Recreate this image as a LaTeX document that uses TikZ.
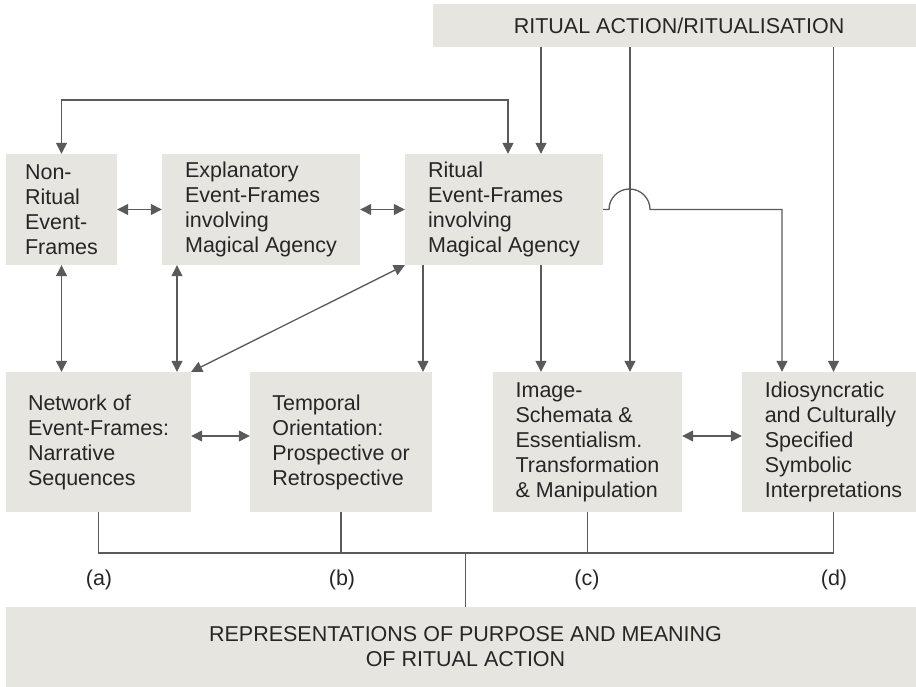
\documentclass[tikz,border=0pt]{standalone}
\usepackage{fontspec}
\setmainfont{Liberation Sans}
\usetikzlibrary{arrows.meta}
\definecolor{boxgray}{HTML}{E6E5E0}
\definecolor{linegray}{HTML}{5A5A5A}
\definecolor{textgray}{HTML}{262626}

\begin{document}
\begin{tikzpicture}[x = 1pt, y = -1pt, font = \fontsize{21.5}{25}\selectfont,
  box/.style = {fill = boxgray, text = textgray, align = left, inner sep = 0pt},
  link/.style = {draw = linegray, line width = 1.3pt},
  > = {Triangle[length = 11pt, width = 11pt]}]
  \useasboundingbox (0, 0) rectangle (916, 687);
  \clip (0, 0) rectangle (916, 687);

  \node[box, minimum width = 492pt, minimum height = 43pt] (ritaction) at (679, 25.5) {RITUAL ACTION/RITUALISATION};

  \node[box, minimum width = 111pt, minimum height = 111pt] (nonritual) at (61.5, 209.5) {Non-\\Ritual\\Event-\\Frames};
  \node[box, minimum width = 198pt, minimum height = 111pt] (explan) at (261, 209.5) {Explanatory\\Event-Frames\\involving\\Magical Agency};
  \node[box, minimum width = 198pt, minimum height = 111pt] (ritual) at (504, 209.5) {Ritual\\Event-Frames\\involving\\Magical Agency};

  \node[box, minimum width = 185pt, minimum height = 140pt] (network) at (98.5, 442) {Network of\\Event-Frames:\\Narrative\\Sequences};
  \node[box, minimum width = 182pt, minimum height = 140pt] (temporal) at (341, 442) {Temporal\\Orientation:\\Prospective or\\Retrospective};
  \node[box, minimum width = 189pt, minimum height = 140pt] (schemata) at (587.5, 442) {Image-\\Schemata \&\\Essentialism.\\Transformation\\\& Manipulation};
  \node[box, minimum width = 183pt, minimum height = 140pt] (idiosync) at (833.5, 442) {Idiosyncratic\\and Culturally\\Specified\\Symbolic\\Interpretations};

  \node[box, minimum width = 919pt, minimum height = 80pt, align = center] (purpose) at (465.5, 647) {REPRESENTATIONS OF PURPOSE AND MEANING\\OF RITUAL ACTION};

  % x positions of the vertical drops, y of the loop and the bus
  \coordinate (loop) at (508, 100);
  \coordinate (xtemp) at (423, 0);
  \coordinate (xrit) at (541, 0);
  \coordinate (xhop) at (630, 0);
  \coordinate (xside) at (782, 0);
  \coordinate (xexp) at (177, 0);
  \coordinate (bus) at (0, 553);

  % upper row
  \draw[link, <->] (nonritual.north) |- (loop) -- (loop |- ritual.north);
  \draw[link, <->] (nonritual.east) -- (explan.west);
  \draw[link, <->] (explan.east) -- (ritual.west);
  \draw[link, ->] (ritaction.south -| xrit) -- (ritual.north -| xrit);
  \draw[link, ->] (ritaction.south -| xhop) -- (schemata.north -| xhop);
  \draw[link, ->] (ritaction.south -| idiosync.north) -- (idiosync.north);
  \draw[link, ->] (ritual.east) -- (609, 209.5) arc[start angle = 180, end angle = 360, radius = 20.5]
    -- (ritual.east -| xside) -- (idiosync.north -| xside);

  % down to the lower row
  \draw[link, <->] (nonritual.south) -- (network.north -| nonritual.south);
  \draw[link, <->] (explan.south -| xexp) -- (network.north -| xexp);
  \draw[link, <->] (ritual.south west) -- (network.north east);
  \draw[link, ->] (ritual.south -| xtemp) -- (temporal.north -| xtemp);
  \draw[link, ->] (ritual.south -| xrit) -- (schemata.north -| xrit);

  % lower row
  \draw[link, <->] ([yshift = 6pt]network.east) -- ([yshift = 6pt]temporal.west);
  \draw[link, <->] ([yshift = 6pt]schemata.east) -- ([yshift = 6pt]idiosync.west);

  % bus to the bottom box
  \draw[link] (network.south) -- (network.south |- bus) -| (idiosync.south);
  \draw[link] (temporal.south) -- (temporal.south |- bus);
  \draw[link] (schemata.south) -- (schemata.south |- bus);
  \draw[link] (purpose.north) -- (purpose.north |- bus);

  \node[text = textgray] (la) at (99, 580) {(a)};
  \node[text = textgray] (lb) at (342, 580) {(b)};
  \node[text = textgray] (lc) at (587, 580) {(c)};
  \node[text = textgray] (ld) at (834, 580) {(d)};
\end{tikzpicture}
\end{document}
